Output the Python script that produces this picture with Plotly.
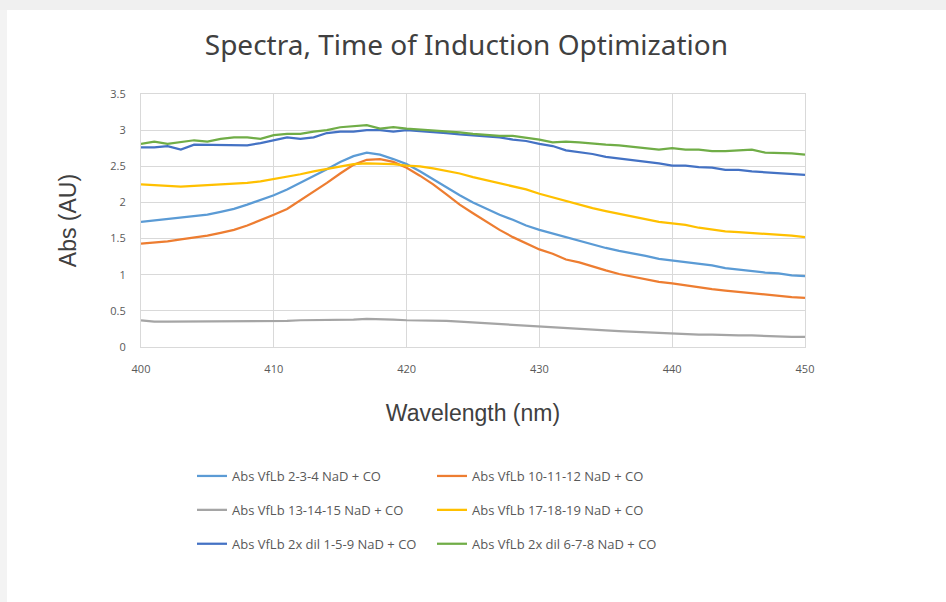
import plotly.graph_objects as go

wavelength = list(range(400, 451))

abs_2_3_4 = [1.73, 1.75, 1.76, 1.78, 1.80, 1.83, 1.87, 1.91, 1.97, 2.03, 2.10, 2.18, 2.27, 2.37, 2.46, 2.56,
             2.64, 2.69, 2.66, 2.60, 2.53, 2.43, 2.32, 2.20, 2.10, 2.00, 1.91, 1.83, 1.76, 1.68, 1.62, 1.57,
             1.51, 1.46, 1.41, 1.37, 1.33, 1.30, 1.26, 1.22, 1.20, 1.18, 1.16, 1.13, 1.09, 1.07, 1.04, 1.03,
             1.02, 0.99, 0.98]
abs_10_11_12 = [1.43, 1.44, 1.46, 1.49, 1.51, 1.54, 1.58, 1.62, 1.68, 1.75, 1.83, 1.91, 2.03, 2.14, 2.27, 2.40,
                2.52, 2.59, 2.60, 2.56, 2.48, 2.37, 2.25, 2.11, 1.97, 1.85, 1.73, 1.62, 1.52, 1.43, 1.35, 1.29,
                1.21, 1.17, 1.11, 1.06, 1.01, 0.97, 0.93, 0.90, 0.88, 0.85, 0.82, 0.80, 0.78, 0.76, 0.74, 0.73,
                0.71, 0.69, 0.68]
abs_13_14_15 = [0.37, 0.35, 0.35, 0.35, 0.35, 0.35, 0.35, 0.35, 0.35, 0.35, 0.35, 0.36, 0.37, 0.37, 0.37, 0.37,
                0.38, 0.39, 0.39, 0.38, 0.37, 0.37, 0.37, 0.36, 0.35, 0.34, 0.33, 0.32, 0.31, 0.30, 0.29, 0.28,
                0.27, 0.26, 0.25, 0.23, 0.22, 0.21, 0.20, 0.19, 0.18, 0.18, 0.17, 0.17, 0.16, 0.16, 0.16, 0.15,
                0.14, 0.14, 0.14]
abs_17_18_19 = [2.25, 2.24, 2.22, 2.22, 2.23, 2.24, 2.24, 2.25, 2.27, 2.29, 2.32, 2.35, 2.39, 2.43, 2.46, 2.50,
                2.53, 2.54, 2.54, 2.53, 2.51, 2.50, 2.47, 2.44, 2.40, 2.35, 2.31, 2.27, 2.23, 2.18, 2.12, 2.07,
                2.01, 1.96, 1.92, 1.88, 1.84, 1.80, 1.76, 1.73, 1.71, 1.69, 1.65, 1.62, 1.60, 1.59, 1.58, 1.56,
                1.55, 1.54, 1.52]
abs_2x_1_5_9 = [2.76, 2.76, 2.78, 2.73, 2.80, 2.80, 2.80, 2.80, 2.79, 2.82, 2.86, 2.90, 2.88, 2.90, 2.96, 2.98,
                2.98, 3.00, 3.00, 2.98, 3.00, 2.99, 2.97, 2.96, 2.94, 2.93, 2.92, 2.90, 2.87, 2.85, 2.81, 2.78,
                2.72, 2.70, 2.67, 2.63, 2.61, 2.59, 2.57, 2.54, 2.51, 2.51, 2.49, 2.48, 2.45, 2.45, 2.43, 2.42,
                2.41, 2.40, 2.38]
abs_2x_6_7_8 = [2.81, 2.84, 2.81, 2.84, 2.86, 2.84, 2.88, 2.90, 2.90, 2.88, 2.93, 2.95, 2.95, 2.98, 3.00, 3.04,
                3.06, 3.07, 3.02, 3.04, 3.02, 3.01, 3.00, 2.98, 2.97, 2.95, 2.93, 2.92, 2.92, 2.90, 2.87, 2.83,
                2.84, 2.83, 2.81, 2.80, 2.79, 2.77, 2.74, 2.73, 2.75, 2.73, 2.73, 2.71, 2.71, 2.72, 2.73, 2.69,
                2.69, 2.68, 2.66]

series_names = ["Abs VfLb 2-3-4 NaD + CO", "Abs VfLb 10-11-12 NaD + CO",
                "Abs VfLb 13-14-15 NaD + CO", "Abs VfLb 17-18-19 NaD + CO",
                "Abs VfLb 2x dil 1-5-9 NaD + CO", "Abs VfLb 2x dil 6-7-8 NaD + CO"]
series_values = [abs_2_3_4, abs_10_11_12, abs_13_14_15, abs_17_18_19, abs_2x_1_5_9, abs_2x_6_7_8]
colors = ["#5B9BD5", "#ED7D31", "#A5A5A5", "#FFC000", "#4472C4", "#70AD47"]
legend_ids = ["legend", "legend2", "legend", "legend2", "legend", "legend2"]

W, H = 946, 602
L, R, T, B = 141, 141, 94, 255
PW, PH = W - L - R, H - T - B

def px_x(px):
    return (px - L) / PW

def px_y(py):
    return (H - B - py) / PH

fig = go.Figure()
for i, (name, vals, col, lg) in enumerate(zip(series_names, series_values, colors, legend_ids)):
    fig.add_trace(go.Scatter(x=wavelength, y=vals, mode="lines", name=name,
                             line=dict(color=col, width=2.25), legend=lg,
                             legendgroup=f"g{i}"))

legend_font = dict(family="Open Sans, Noto Sans, sans-serif", size=13, color="#595959")
tick_font = dict(family="Open Sans, Noto Sans, sans-serif", size=11, color="#595959")
fig.update_layout(
    width=W, height=H,
    paper_bgcolor="white", plot_bgcolor="white",
    margin=dict(l=L, r=R, t=T, b=B, autoexpand=False),
    title=dict(text="Spectra, Time of Induction Optimization", x=0.493, xanchor="center",
               y=1 - 45 / H, yanchor="middle",
               font=dict(family="Noto Sans, sans-serif", size=28, color="#404040")),
    xaxis=dict(range=[400, 450], dtick=10, tick0=400, showgrid=True, gridcolor="#d9d9d9", gridwidth=1,
               showline=True, mirror=True, linecolor="#d9d9d9", zeroline=False,
               ticks="", ticklabelstandoff=12, tickangle=0, tickfont=tick_font,
               title=dict(text="Wavelength (nm)", standoff=29,
                          font=dict(family="Liberation Sans, Arial, sans-serif", size=23, color="#404040"))),
    yaxis=dict(range=[0, 3.5], dtick=0.5, tick0=0, showgrid=True, gridcolor="#d9d9d9", gridwidth=1,
               showline=True, mirror=True, linecolor="#d9d9d9", zeroline=False,
               ticks="", ticklabelstandoff=12, tickfont=tick_font,
               title=dict(text="Abs (AU)", standoff=27,
                          font=dict(family="Liberation Sans, Arial, sans-serif", size=23, color="#404040"))),
    legend=dict(x=px_x(192), xanchor="left", y=px_y(461), yanchor="top",
                orientation="v", tracegroupgap=14, font=legend_font, bgcolor="rgba(0,0,0,0)",
                itemwidth=30),
    legend2=dict(x=px_x(432), xanchor="left", y=px_y(461), yanchor="top",
                 orientation="v", tracegroupgap=14, font=legend_font, bgcolor="rgba(0,0,0,0)",
                 itemwidth=30),
    shapes=[
        dict(type="rect", xref="paper", yref="paper", x0=px_x(0), x1=px_x(W), y0=px_y(10), y1=px_y(0),
             fillcolor="#f0f0f0", line=dict(width=0), layer="below"),
        dict(type="rect", xref="paper", yref="paper", x0=px_x(0), x1=px_x(7), y0=px_y(H), y1=px_y(10),
             fillcolor="#f3f3f3", line=dict(width=0), layer="below"),
    ],
)

fig.write_html("out.html")
